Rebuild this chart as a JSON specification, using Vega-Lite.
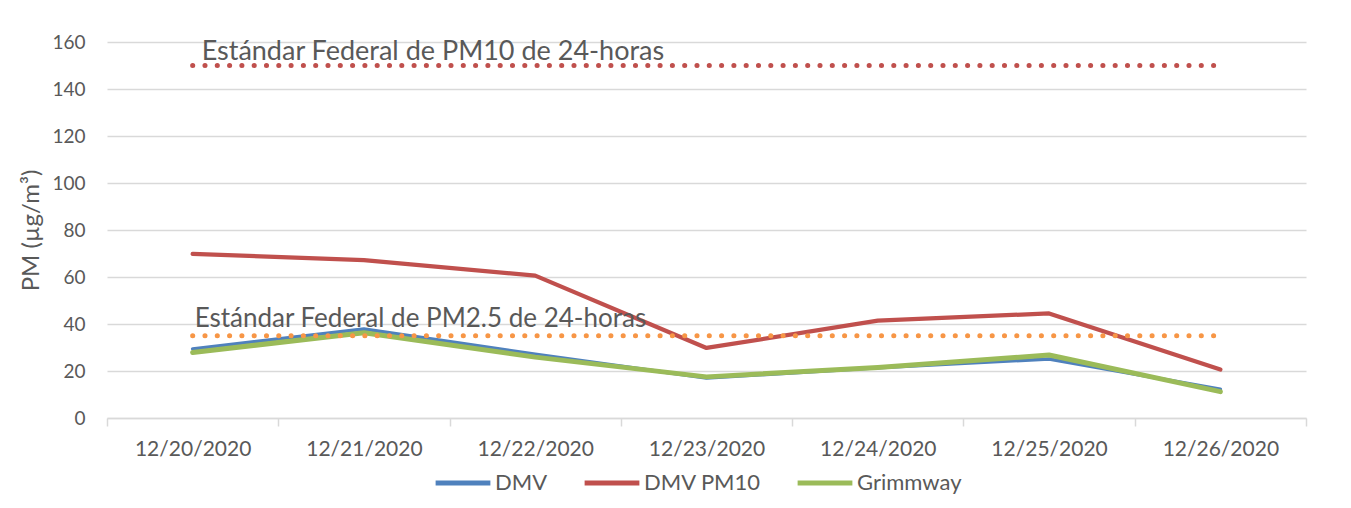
{
  "$schema": "https://vega.github.io/schema/vega-lite/v6.json",
  "autosize": {"type": "none"},
  "width": 1199,
  "height": 376,
  "padding": {"left": 107, "top": 42, "right": 45, "bottom": 90},
  "background": "white",
  "config": {
    "font": "Lato",
    "view": {"stroke": null},
    "axis": {"labelColor": "#595959", "titleColor": "#595959", "labelFont": "Lato", "titleFont": "Lato"},
    "legend": {"labelFont": "Lato"}
  },
  "datasets": {
    "series": [
      {"date": "12/20/2020", "series": "DMV", "value": 29.4},
      {"date": "12/21/2020", "series": "DMV", "value": 37.9},
      {"date": "12/22/2020", "series": "DMV", "value": 27.1},
      {"date": "12/23/2020", "series": "DMV", "value": 17.0},
      {"date": "12/24/2020", "series": "DMV", "value": 21.4},
      {"date": "12/25/2020", "series": "DMV", "value": 25.1},
      {"date": "12/26/2020", "series": "DMV", "value": 12.2},
      {"date": "12/20/2020", "series": "DMV PM10", "value": 69.8},
      {"date": "12/21/2020", "series": "DMV PM10", "value": 67.2},
      {"date": "12/22/2020", "series": "DMV PM10", "value": 60.6},
      {"date": "12/23/2020", "series": "DMV PM10", "value": 29.8},
      {"date": "12/24/2020", "series": "DMV PM10", "value": 41.4},
      {"date": "12/25/2020", "series": "DMV PM10", "value": 44.5},
      {"date": "12/26/2020", "series": "DMV PM10", "value": 20.6},
      {"date": "12/20/2020", "series": "Grimmway", "value": 27.9},
      {"date": "12/21/2020", "series": "Grimmway", "value": 36.3},
      {"date": "12/22/2020", "series": "Grimmway", "value": 25.9},
      {"date": "12/23/2020", "series": "Grimmway", "value": 17.5},
      {"date": "12/24/2020", "series": "Grimmway", "value": 21.5},
      {"date": "12/25/2020", "series": "Grimmway", "value": 26.8},
      {"date": "12/26/2020", "series": "Grimmway", "value": 11.2}
    ],
    "standards": [
      {"date": "12/20/2020", "standard": "PM10", "value": 150},
      {"date": "12/26/2020", "standard": "PM10", "value": 150},
      {"date": "12/20/2020", "standard": "PM2.5", "value": 35},
      {"date": "12/26/2020", "standard": "PM2.5", "value": 35}
    ],
    "labels": [
      {"date": "12/20/2020", "standard": "PM10", "value": 150, "text": "Estándar Federal de PM10 de 24-horas"},
      {"date": "12/20/2020", "standard": "PM2.5", "value": 35, "text": "Estándar Federal de PM2.5 de 24-horas"}
    ]
  },
  "encoding": {
    "x": {
      "field": "date", "type": "ordinal", "bandPosition": 0.5,
      "scale": {"type": "band", "paddingInner": 0, "paddingOuter": 0,
        "domain": ["12/20/2020", "12/21/2020", "12/22/2020", "12/23/2020", "12/24/2020", "12/25/2020", "12/26/2020"]},
      "axis": {"title": null, "labelAngle": 0, "labelFontSize": 21, "tickBand": "extent", "tickSize": 8,
        "tickColor": "#d9d9d9", "tickWidth": 1.5, "domainColor": "#d9d9d9", "domainWidth": 1.5,
        "labelPadding": 12, "grid": false}
    },
    "y": {
      "field": "value", "type": "quantitative",
      "scale": {"domain": [0, 160], "nice": false},
      "axis": {"title": "PM (µg/m³)", "titleFontSize": 24, "titleFontWeight": "normal", "titlePadding": 8,
        "values": [0, 20, 40, 60, 80, 100, 120, 140, 160], "labelFontSize": 19, "labelPadding": 22,
        "ticks": false, "domain": false, "gridColor": "#d9d9d9", "gridWidth": 1.5}
    }
  },
  "layer": [
    {
      "data": {"name": "series"},
      "mark": {"type": "line", "strokeCap": "round", "strokeJoin": "round"},
      "encoding": {
        "color": {"field": "series", "type": "nominal",
          "scale": {"domain": ["DMV", "DMV PM10", "Grimmway"], "range": ["#4f81bd", "#c0504d", "#9bbb59"]},
          "legend": {"title": null, "orient": "none", "legendX": 326, "legendY": 411, "direction": "horizontal",
            "symbolType": "stroke", "symbolSize": 3000, "symbolStrokeWidth": 5, "labelFontSize": 22,
            "labelColor": "#595959", "labelOffset": 2, "columnPadding": 26}},
        "strokeWidth": {"field": "series", "type": "nominal",
          "scale": {"domain": ["DMV", "DMV PM10", "Grimmway"], "range": [3.5, 5, 6]}, "legend": null},
        "order": {"field": "series"}
      }
    },
    {
      "data": {"name": "standards"},
      "mark": {"type": "line", "strokeDash": [0.1, 12.2], "strokeCap": "round", "strokeWidth": 5},
      "encoding": {
        "detail": {"field": "standard"},
        "color": {"field": "standard", "type": "nominal",
          "scale": {"domain": ["PM10", "PM2.5"], "range": ["#c0504d", "#f79646"]}, "legend": null}
      }
    },
    {
      "data": {"name": "labels"},
      "transform": [{"filter": "datum.standard == 'PM10'"}],
      "mark": {"type": "text", "align": "left", "baseline": "alphabetic", "dx": 9, "dy": -6, "fontSize": 27, "color": "#595959"},
      "encoding": {"text": {"field": "text"}}
    },
    {
      "data": {"name": "labels"},
      "transform": [{"filter": "datum.standard == 'PM2.5'"}],
      "mark": {"type": "text", "align": "left", "baseline": "alphabetic", "dx": 2, "dy": -9, "fontSize": 26, "color": "#595959"},
      "encoding": {"text": {"field": "text"}}
    }
  ],
  "resolve": {"scale": {"color": "independent"}}
}
